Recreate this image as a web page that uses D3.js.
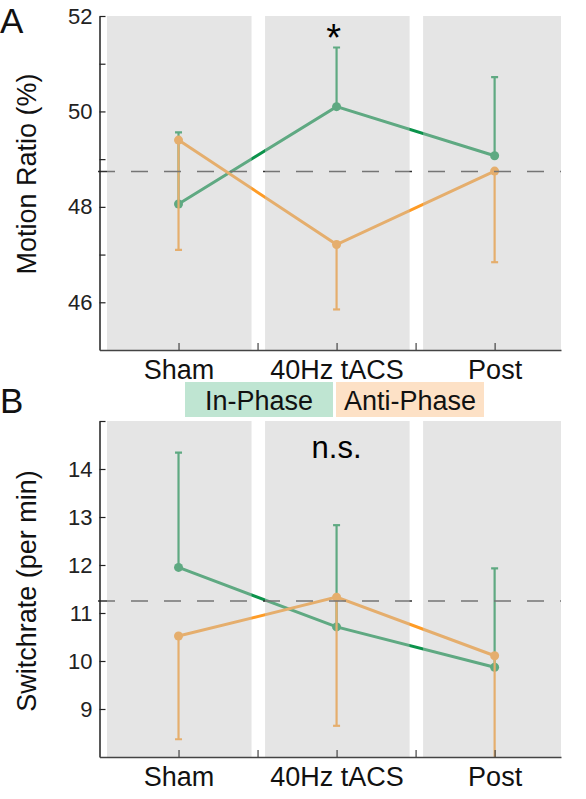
<!DOCTYPE html>
<html>
<head>
<meta charset="utf-8">
<script src="https://cdn.jsdelivr.net/npm/d3@7"></script>
<style>
  html, body { margin: 0; padding: 0; background: #fff; }
  svg { display: block; font-family: "Liberation Sans", Arial, Helvetica, sans-serif; }
</style>
</head>
<body>
<svg id="chart" width="586" height="799"></svg>
<script>
// ---------------- data ----------------
const conditions = ["Sham", "40Hz tACS", "Post"];
const seriesNames = ["In-Phase", "Anti-Phase"];

// Panel A: Motion Ratio (%)
const inPhaseMotion = [48.06, 50.10, 49.07];
const inPhaseMotionErr = [1.50, 1.24, 1.65];      // drawn upward
const antiPhaseMotion = [49.40, 47.21, 48.75];
const antiPhaseMotionErr = [2.30, 1.36, 1.91];    // drawn downward
const motionBaseline = 48.74;
const motionTicks = [46, 47, 48, 49, 50, 51, 52];
const motionTickLabels = [46, 48, 50, 52];

// Panel B: Switchrate (per min)
const inPhaseSwitch = [11.95, 10.71, 9.87];
const inPhaseSwitchErr = [2.39, 2.12, 2.06];
const antiPhaseSwitch = [10.52, 11.33, 10.11];
const antiPhaseSwitchErr = [2.15, 2.68, 2.15];
const switchBaseline = 11.25;
const switchTicks = [9, 10, 11, 12, 13, 14, 15];
const switchTickLabels = [9, 10, 11, 12, 13, 14];

// ---------------- styling ----------------
const GREEN = "#0b934b";
const ORANGE = "#ff9c26";
const svg = d3.select("#chart");

const x = d3.scaleLinear().domain([-0.5, 2.42]).range([99.5, 561]);

function panel(opts) {
  const g = svg.append("g");
  const y = d3.scaleLinear().domain(opts.domain).range([opts.bottom, opts.top]);
  const clipId = "clip" + opts.id;
  svg.append("clipPath").attr("id", clipId).append("rect")
    .attr("x", 99.5).attr("y", opts.top).attr("width", 561 - 99.5).attr("height", opts.bottom - opts.top);
  const plot = g.append("g").attr("clip-path", `url(#${clipId})`);

  // dashed baseline
  g.append("line")
    .attr("x1", 98).attr("x2", 561)
    .attr("y1", y(opts.baseline)).attr("y2", y(opts.baseline))
    .attr("stroke", "#333").attr("stroke-width", 1.5)
    .attr("stroke-dasharray", "17,16");

  const series = [
    {vals: opts.inPhase, err: opts.inErr, dir: 1, color: GREEN},
    {vals: opts.antiPhase, err: opts.antiErr, dir: -1, color: ORANGE}
  ];
  series.forEach(s => {
    const line = d3.line().x((d, i) => x(i)).y(d => y(d));
    plot.append("path").datum(s.vals).attr("d", line)
      .attr("fill", "none").attr("stroke", s.color).attr("stroke-width", 3);
    s.vals.forEach((v, i) => {
      const end = v + s.dir * s.err[i];
      plot.append("line").attr("x1", x(i)).attr("x2", x(i))
        .attr("y1", y(v)).attr("y2", y(end))
        .attr("stroke", s.color).attr("stroke-width", 2.2);
      plot.append("line").attr("x1", x(i) - 3.5).attr("x2", x(i) + 3.5)
        .attr("y1", y(end)).attr("y2", y(end))
        .attr("stroke", s.color).attr("stroke-width", 2.2);
    });
    plot.selectAll(null).data(s.vals).enter().append("circle")
      .attr("cx", (d, i) => x(i)).attr("cy", d => y(d)).attr("r", 4.5)
      .attr("fill", s.color);
  });

  // translucent grey patches on top
  conditions.forEach((c, i) => {
    const x0 = Math.max(x(i - 0.5) + 7.5, 106.5);
    const x1 = Math.min(x(i + 0.5) - 6, 561);
    g.append("rect").attr("x", x0).attr("y", opts.top)
      .attr("width", x1 - x0).attr("height", opts.bottom - opts.top)
      .attr("fill", "rgb(197,197,197)").attr("fill-opacity", 0.45);
  });

  // axes
  const yAxis = d3.axisLeft(y).tickValues(opts.ticks)
    .tickFormat(d => opts.tickLabels.includes(d) ? d : "")
    .tickSizeInner(-6).tickSizeOuter(0).tickPadding(8);
  const ya = g.append("g").attr("transform", "translate(99.5,0)").call(yAxis);
  ya.selectAll("text").attr("font-size", 22).attr("fill", "#222").attr("x", -7);
  ya.select(".domain").attr("stroke", "#222").attr("stroke-width", 1.5);
  ya.selectAll(".tick line").attr("stroke", "#222").attr("stroke-width", 1.2);

  const xAxis = d3.axisBottom(x).tickValues([0, 0.5, 1, 1.5, 2])
    .tickFormat(d => Number.isInteger(d) ? conditions[d] : "")
    .tickSizeInner(-7).tickSizeOuter(0).tickPadding(10);
  const xa = g.append("g").attr("transform", `translate(0,${opts.bottom})`).call(xAxis);
  xa.selectAll("text").attr("font-size", 27).attr("fill", "#111").attr("dy", "0.71em");
  xa.select(".domain").attr("stroke", "#444").attr("stroke-width", 1.5);
  xa.selectAll(".tick line").attr("stroke", "#444").attr("stroke-width", 1.2);

  // y label
  g.append("text")
    .attr("transform", `translate(36,${opts.labelY}) rotate(-90)`)
    .attr("text-anchor", "middle").attr("font-size", 27).attr("fill", "#111")
    .text(opts.label);
  // panel letter
  g.append("text").attr("x", 0).attr("y", opts.letterY)
    .attr("font-size", 35).attr("fill", "#111").text(opts.letter);
  return y;
}

const yA = panel({
  id: "A", domain: [45, 52], top: 16, bottom: 350,
  inPhase: inPhaseMotion, inErr: inPhaseMotionErr,
  antiPhase: antiPhaseMotion, antiErr: antiPhaseMotionErr,
  baseline: motionBaseline, ticks: motionTicks, tickLabels: motionTickLabels,
  label: "Motion Ratio (%)", labelY: 174, letter: "A", letterY: 33
});
const yB = panel({
  id: "B", domain: [8, 15], top: 421, bottom: 757,
  inPhase: inPhaseSwitch, inErr: inPhaseSwitchErr,
  antiPhase: antiPhaseSwitch, antiErr: antiPhaseSwitchErr,
  baseline: switchBaseline, ticks: switchTicks, tickLabels: switchTickLabels,
  label: "Switchrate (per min)", labelY: 591, letter: "B", letterY: 413
});

// significance marks
svg.append("text").attr("x", x(1) - 3).attr("y", 51)
  .attr("text-anchor", "middle").attr("font-size", 38).attr("fill", "#000").text("*");
svg.append("text").attr("x", x(1)).attr("y", 458)
  .attr("text-anchor", "middle").attr("font-size", 31).attr("fill", "#000").text("n.s.");

// legend
const legendFills = ["#bfe5d2", "#fde1c6"];
const legendX = [185, 336];
seriesNames.forEach((name, i) => {
  svg.append("rect").attr("x", legendX[i]).attr("y", 382)
    .attr("width", 148).attr("height", 35).attr("fill", legendFills[i]);
  svg.append("text").attr("x", legendX[i] + 74).attr("y", 410)
    .attr("text-anchor", "middle").attr("font-size", 27).attr("fill", "#111").text(name);
});
</script>
</body>
</html>
